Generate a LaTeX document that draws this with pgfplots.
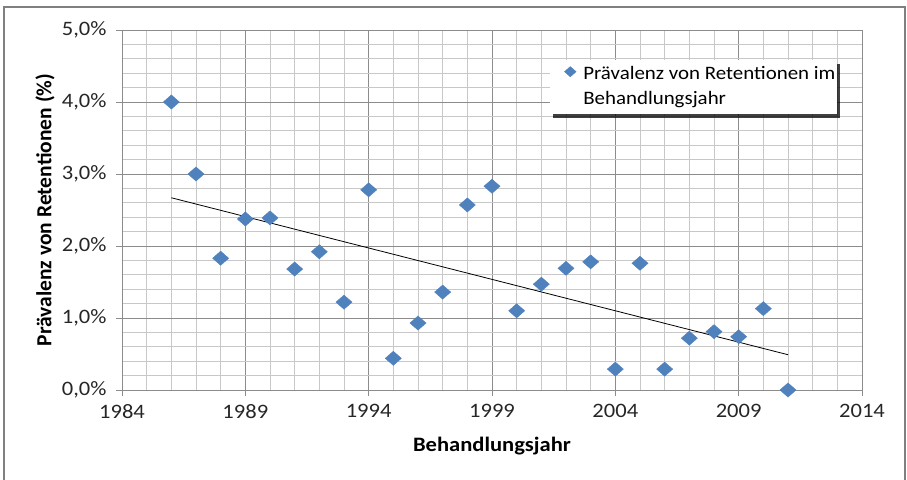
\documentclass[border=0pt]{standalone}
\usepackage{fontspec}
\setmainfont{Carlito}[FakeStretch=1.1]
\newfontfamily\plainfont{Carlito}
\usepackage{pgfplots}
\pgfplotsset{compat=1.18}
\usetikzlibrary{shadows}
\definecolor{mblue}{HTML}{4F81BD}
\definecolor{majgrid}{HTML}{8C8C8C}
\definecolor{mingrid}{HTML}{C8C8C8}
\newcommand{\tfont}{\fontsize{20.5}{24}\selectfont}
\newcommand{\gfont}{\fontsize{19}{22}\selectfont}
\newcommand{\xlfont}{\fontsize{20.5}{24}\selectfont\bfseries}
\newcommand{\ylfont}{\plainfont\fontsize{21.5}{25}\selectfont\bfseries}
\begin{document}
\begin{tikzpicture}
\useasboundingbox (-122pt,-89pt) rectangle (785pt,390pt);
\draw[line width=1.2pt, color=gray] (-118pt,-95pt) rectangle (783pt,383pt);
\begin{axis}[
  at={(0pt,0pt)}, anchor=south west,
  width=740pt, height=360pt, scale only axis,
  xmin=1984, xmax=2014, ymin=0, ymax=5,
  xtick={1984,1989,...,2014},
  minor xtick={1984,...,2014},
  ytick={0,1,...,5},
  minor ytick={0,0.2,...,5},
  yticklabels={{0,0\%},{1,0\%},{2,0\%},{3,0\%},{4,0\%},{5,0\%}},
  /pgf/number format/1000 sep={},
  /pgf/number format/assume math mode=true,
  grid=both,
  major grid style={color=majgrid, line width=0.8pt},
  minor grid style={color=mingrid, line width=0.8pt},
  axis x line*=bottom, axis y line*=left,
  axis line style={color=majgrid, line width=0.8pt, -},
  tick style={color=majgrid, line width=0.8pt},
  tick align=outside,
  major tick length=6pt, minor tick length=0pt,
  ticklabel style={font=\tfont, color=black!85},
  xticklabel style={yshift=-5pt},
  yticklabel style={xshift=-6pt},
  xlabel={Behandlungsjahr},
  ylabel={Prävalenz von Retentionen (\%)},
  xlabel style={font=\xlfont, at={(axis description cs:0.5,-0.155)}, anchor=center},
  ylabel style={font=\ylfont, at={(axis description cs:-0.104,0.5)}, anchor=center},
  legend cell align=left,
  legend style={at={(axis description cs:0.5785,0.9167)}, anchor=north west,
    font=\gfont, draw=none, fill=white, row sep=4pt, column sep=0pt,
    nodes={inner xsep=0pt, inner ysep=1pt, text height=14pt, text depth=5pt},
    drop shadow={opacity=0.75, shadow xshift=3pt, shadow yshift=-4pt, fill=black},
    inner xsep=2pt, inner ysep=4pt},
  clip=false,
]
\addplot[only marks, mark=square*, mark size=5.0pt,
  mark options={xscale=1.14, rotate=45, fill=mblue, draw=mblue},
  legend image code/.code={%
    \pgfpathmoveto{\pgfpoint{-18pt}{3pt}}%
    \pgfpathlineto{\pgfpoint{13pt}{3pt}}%
    \pgfusepath{discard}%
    \draw[mark size=3.6pt] plot coordinates {(0pt,3pt)};}]
  coordinates {
  (1986,4.00) (1987,3.00) (1988,1.83) (1989,2.375) (1990,2.39)
  (1991,1.68) (1992,1.92) (1993,1.22) (1994,2.78) (1995,0.44)
  (1996,0.93) (1997,1.36) (1998,2.57) (1999,2.83) (2000,1.10)
  (2001,1.47) (2002,1.69) (2003,1.78) (2004,0.29) (2005,1.76)
  (2006,0.29) (2007,0.72) (2008,0.81) (2009,0.74) (2010,1.13)
  (2011,0.00)
  };
\addlegendentry{Prävalenz von Retentionen im}
\addlegendimage{empty legend}
\addlegendentry{Behandlungsjahr}
\addplot[black, line width=0.8pt, forget plot] coordinates {(1986,2.67) (2011,0.49)};
\end{axis}
\end{tikzpicture}
\end{document}
